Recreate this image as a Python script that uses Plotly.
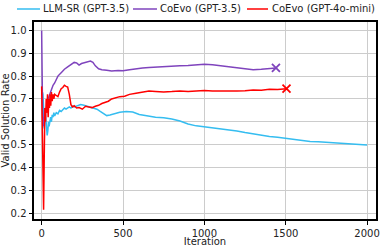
import plotly.graph_objects as go

# LLM-SR (GPT-3.5)
llmsr_x = [5, 8, 12, 15, 18, 22, 26, 30, 34, 38, 42, 46, 50, 55, 60, 65, 70, 75, 80, 90,
           100, 110, 120, 130, 140, 150, 160, 170, 180, 190, 200, 220, 240, 260, 280, 300,
           320, 340, 360, 380, 400, 420, 450, 480, 520, 560, 600, 650, 700, 750, 800, 850,
           900, 950, 1000, 1050, 1100, 1150, 1200, 1250, 1300, 1350, 1400, 1450, 1500, 1550,
           1600, 1650, 1700, 1750, 1800, 1850, 1900, 1950, 2000]
llmsr_y = [0.73, 0.72, 0.66, 0.57, 0.60, 0.65, 0.62, 0.58, 0.54, 0.56, 0.60, 0.58, 0.61, 0.62,
           0.60, 0.63, 0.62, 0.64, 0.625, 0.64, 0.635, 0.65, 0.645, 0.655, 0.66, 0.655, 0.66,
           0.665, 0.66, 0.668, 0.665, 0.67, 0.675, 0.672, 0.668, 0.665, 0.66, 0.655, 0.645,
           0.635, 0.627, 0.63, 0.637, 0.642, 0.645, 0.643, 0.632, 0.625, 0.62, 0.617, 0.612,
           0.603, 0.59, 0.582, 0.578, 0.575, 0.57, 0.564, 0.56, 0.553, 0.546, 0.54, 0.535,
           0.532, 0.527, 0.522, 0.518, 0.514, 0.512, 0.51, 0.509, 0.507, 0.504, 0.501, 0.498]

# CoEvo (GPT-3.5)
coevo35_x = [0, 2, 6, 12, 20, 30, 40, 50, 60, 70, 80, 90, 100, 120, 140, 160, 180, 200, 215,
             230, 245, 260, 280, 300, 315, 330, 350, 370, 400, 430, 470, 500, 540, 580, 620,
             660, 700, 750, 800, 850, 900, 950, 1000, 1050, 1100, 1150, 1200, 1250, 1300,
             1350, 1400, 1440]
coevo35_y = [1.0, 0.75, 0.62, 0.58, 0.66, 0.64, 0.70, 0.72, 0.74, 0.76, 0.77, 0.785, 0.80,
             0.815, 0.83, 0.84, 0.85, 0.86, 0.858, 0.848, 0.855, 0.858, 0.862, 0.866, 0.86,
             0.845, 0.832, 0.828, 0.826, 0.822, 0.825, 0.823, 0.828, 0.83, 0.835, 0.838, 0.84,
             0.842, 0.843, 0.845, 0.846, 0.848, 0.852, 0.85, 0.846, 0.842, 0.838, 0.832, 0.828,
             0.83, 0.833, 0.836]

# CoEvo (GPT-4o-mini)
coevo4o_x = [0, 4, 8, 12, 16, 20, 24, 28, 32, 36, 40, 44, 48, 52, 56, 60, 65, 70, 75, 80, 90,
             100, 110, 120, 130, 140, 150, 160, 170, 180, 190, 200, 215, 230, 250, 270, 290,
             310, 330, 350, 370, 390, 410, 430, 450, 480, 510, 540, 580, 620, 660, 700, 750,
             800, 850, 900, 950, 1000, 1050, 1100, 1150, 1200, 1250, 1300, 1350, 1400, 1450,
             1480, 1505]
coevo4o_y = [0.755, 0.60, 0.40, 0.215, 0.45, 0.66, 0.60, 0.70, 0.64, 0.72, 0.62, 0.70, 0.66,
             0.72, 0.67, 0.73, 0.69, 0.72, 0.70, 0.72, 0.715, 0.71, 0.73, 0.745, 0.75, 0.76,
             0.755, 0.752, 0.72, 0.675, 0.665, 0.67, 0.66, 0.662, 0.655, 0.668, 0.665, 0.662,
             0.668, 0.672, 0.68, 0.685, 0.69, 0.70, 0.705, 0.71, 0.712, 0.72, 0.725, 0.73,
             0.735, 0.733, 0.73, 0.732, 0.735, 0.733, 0.735, 0.737, 0.735, 0.734, 0.736, 0.735,
             0.736, 0.739, 0.738, 0.742, 0.741, 0.744, 0.745]

series_names = ["LLM-SR (GPT-3.5)", "CoEvo (GPT-3.5)", "CoEvo (GPT-4o-mini)"]
x_ticks = [0, 500, 1000, 1500, 2000]
y_ticks = [0.2, 0.3, 0.4, 0.5, 0.6, 0.7, 0.8, 0.9, 1.0]

BLUE = "#35bdf0"
PURPLE = "#7f44bd"
RED = "#ff0000"
COLORS = [BLUE, PURPLE, RED]
FONT = "DejaVu Sans"
FS = 10

fig = go.Figure()
for xs, ys, name, col in zip([llmsr_x, coevo35_x, coevo4o_x], [llmsr_y, coevo35_y, coevo4o_y],
                             series_names, COLORS):
    fig.add_trace(go.Scatter(x=xs, y=ys, mode="lines", name=name, showlegend=False,
                             line=dict(color=col, width=1.5)))
# end markers
fig.add_trace(go.Scatter(x=[coevo35_x[-1]], y=[coevo35_y[-1]], mode="markers", showlegend=False,
                         marker=dict(symbol="x-thin", size=8, line=dict(color=PURPLE, width=1.8))))
fig.add_trace(go.Scatter(x=[coevo4o_x[-1]], y=[coevo4o_y[-1]], mode="markers", showlegend=False,
                         marker=dict(symbol="x-thin", size=8, line=dict(color=RED, width=1.8))))

# legend drawn as a row above the plot (paper coordinates)
leg_line_x0 = [-0.0497, 0.2895, 0.6228]
leg_line_x1 = [0.0175, 0.3596, 0.6842]
leg_text_x = [0.0263, 0.3684, 0.6959]
leg_y = 1.066
for x0, x1, tx, name, col in zip(leg_line_x0, leg_line_x1, leg_text_x, series_names, COLORS):
    fig.add_shape(type="line", xref="paper", yref="paper", x0=x0, x1=x1, y0=leg_y, y1=leg_y,
                  line=dict(color=col, width=1.5))
    fig.add_annotation(xref="paper", yref="paper", x=tx, y=leg_y, text=name, showarrow=False,
                       xanchor="left", yanchor="middle", xshift=-2,
                       font=dict(family=FONT, size=FS, color="#222"))

axis_common = dict(showgrid=True, gridcolor="#cccccc", gridwidth=1, zeroline=False,
                   showline=True, linecolor="black", linewidth=2, mirror=True,
                   ticks="outside", ticklen=3.5, tickcolor="black", tickwidth=1,
                   automargin=False,
                   tickfont=dict(family=FONT, size=FS, color="#222"))

fig.update_layout(
    width=382, height=247,
    margin=dict(l=34, r=6, t=22, b=28),
    paper_bgcolor="white", plot_bgcolor="white",
    font=dict(family=FONT, size=FS, color="#222"),
    showlegend=False,
    xaxis=dict(range=[-47, 2055], tickvals=x_ticks,
               title=dict(text="Iteration", font=dict(family=FONT, size=FS), standoff=0),
               **axis_common),
    yaxis=dict(range=[0.174, 1.037], tickvals=y_ticks, tickformat=".1f",
               title=dict(text="Valid Solution Rate", font=dict(family=FONT, size=FS), standoff=0),
               **axis_common),
)

fig.write_html("out.html", config={"displayModeBar": False},
               post_script="document.body.style.margin='0';")
